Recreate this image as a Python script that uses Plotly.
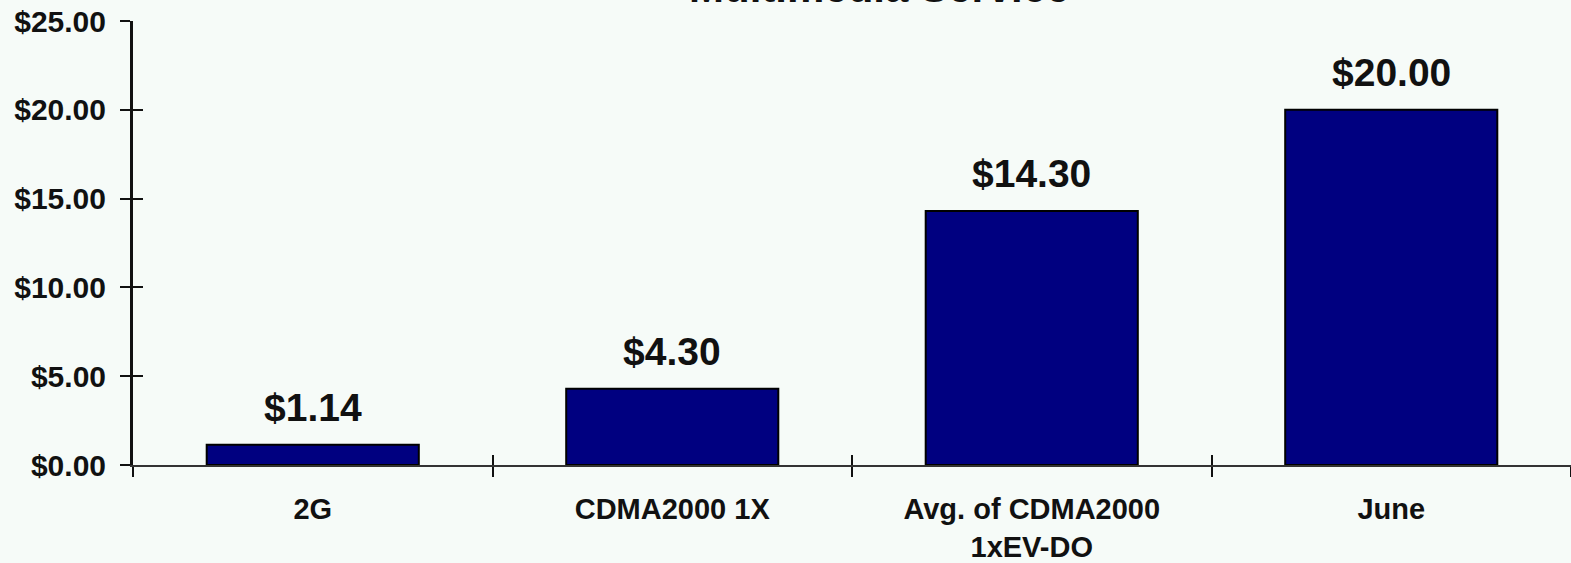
import plotly.graph_objects as go

categories = ["2G", "CDMA2000 1X", "Avg. of CDMA2000<br>1xEV-DO", "June"]
values = [1.14, 4.30, 14.30, 20.00]
y_ticks = [0, 5, 10, 15, 20, 25]
title_text = "Multimedia Service"

FONT = "Liberation Sans, Arial, sans-serif"
BG = "#f6fbf8"
xs = list(range(len(categories)))

fig = go.Figure()
fig.add_trace(go.Bar(
    x=xs, y=values, width=0.59,
    marker=dict(color="#000080", line=dict(color="#000000", width=2)),
    showlegend=False, hoverinfo="skip",
))
# invisible trace for overlay axes
fig.add_trace(go.Scatter(x=[xs[0]], y=[0], xaxis="x2", yaxis="y2", mode="markers",
                         marker=dict(opacity=0), showlegend=False, hoverinfo="skip"))

for i, v in enumerate(values):
    fig.add_annotation(x=xs[i], y=v, text="<b>${:.2f}</b>".format(v), showarrow=False,
                       yanchor="bottom", yshift=14,
                       font=dict(family=FONT, size=39, color="#111111"))

fig.add_annotation(x=0.519, y=1, xref="paper", yref="paper", text="<b>" + title_text + "</b>",
                   showarrow=False, yanchor="bottom", yshift=8,
                   font=dict(family=FONT, size=42, color="#111111"))

rng_x = [-0.5, len(categories) - 0.5]
fig.update_layout(
    width=1571, height=563,
    margin=dict(l=133, r=0, t=21, b=98, autoexpand=False),
    paper_bgcolor=BG, plot_bgcolor=BG,
    font=dict(family=FONT, color="#111111"),
    xaxis=dict(
        range=rng_x, tickvals=xs, ticktext=["<b>%s</b>" % c for c in categories],
        ticks="", showgrid=False, zeroline=False, automargin=False,
        showline=True, linecolor="#333333", linewidth=2,
        tickfont=dict(family=FONT, size=29, color="#111111"),
        ticklabelstandoff=17,
        minor=dict(ticks="outside", tick0=0.5, dtick=1, ticklen=10, tickwidth=2, tickcolor="#111111"),
    ),
    xaxis2=dict(
        range=rng_x, overlaying="x", anchor="y", side="bottom",
        tickvals=[x + 0.5 for x in xs[:-1]], showticklabels=False,
        ticks="inside", ticklen=10, tickwidth=2, tickcolor="#111111",
        showgrid=False, zeroline=False, showline=False, automargin=False,
    ),
    yaxis=dict(
        range=[0, 25], tickvals=y_ticks, ticktext=["<b>${:.2f}</b>".format(t) for t in y_ticks],
        ticks="outside", ticklen=10, tickwidth=2, tickcolor="#111111",
        showgrid=False, zeroline=False, automargin=False,
        showline=True, linecolor="#111111", linewidth=3,
        tickfont=dict(family=FONT, size=30, color="#111111"),
        ticklabelstandoff=8,
    ),
    yaxis2=dict(
        range=[0, 25], overlaying="y", anchor="x", side="left",
        tickvals=y_ticks, showticklabels=False,
        ticks="inside", ticklen=10, tickwidth=2, tickcolor="#111111",
        showgrid=False, zeroline=False, showline=False, automargin=False,
    ),
)

fig.write_html("out.html")
